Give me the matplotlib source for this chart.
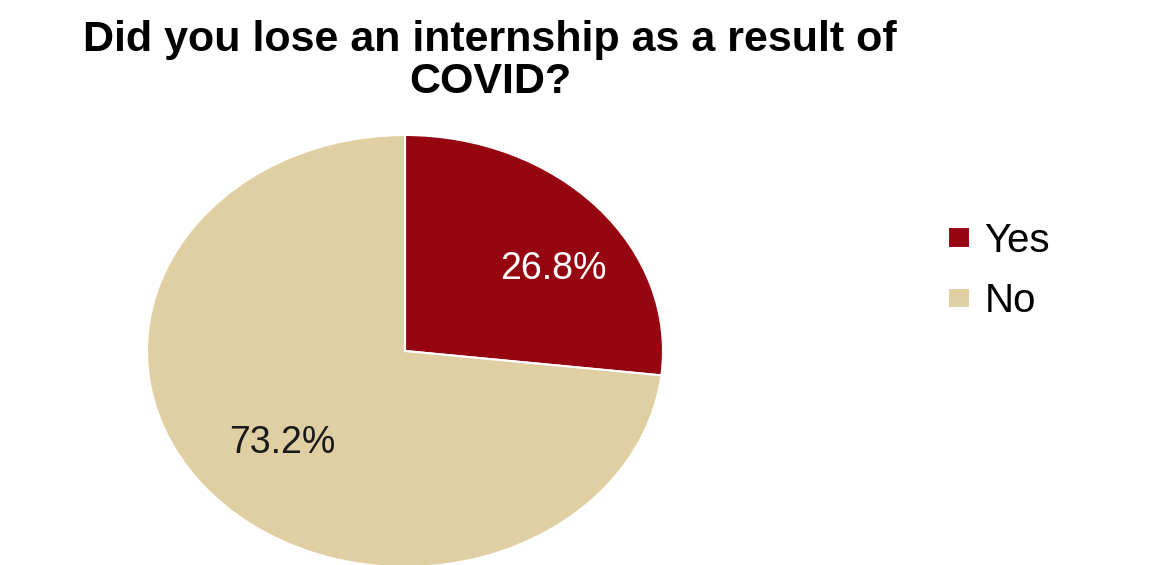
import matplotlib.pyplot as plt

# data
labels = ['Yes', 'No']
values = [26.8, 73.2]
colors = ['#960610', '#E0CFA2']

plt.rcParams['font.family'] = ['Liberation Sans', 'DejaVu Sans']

fig = plt.figure(figsize=(11.5, 5.65), dpi=100)
# pie is stretched horizontally in the original, so use an auto-aspect axes
ax = fig.add_axes([147/1150, -2/565, 516/1150, 432/565])

wedges, texts, autotexts = ax.pie(values, colors=colors, startangle=90, counterclock=False,
                                  autopct='%1.1f%%', pctdistance=0.64,
                                  wedgeprops=dict(edgecolor='white', linewidth=1.5))
ax.set_aspect('auto')
ax.set_xlim(-1, 1)
ax.set_ylim(-1, 1)

autotexts[0].set_color('white')
autotexts[1].set_color('#1a1a1a')
# the Yes label sits a bit lower than the wedge middle in the original
autotexts[0].set_position((0.575, 0.38))
for t in autotexts:
    t.set_fontsize(27)

fig.text(490/1150, 1 - 61/565, 'Did you lose an internship as a result of\nCOVID?',
         ha='center', va='center', fontsize=31, fontweight='bold', linespacing=1.05)

fig.legend(wedges, labels, loc='center left', bbox_to_anchor=(912/1150, 1 - 271/565),
           frameon=False, fontsize=29, handlelength=0.55, handleheight=0.4,
           handletextpad=0.35, labelspacing=0.55)

fig.savefig('out.png', dpi=100)
